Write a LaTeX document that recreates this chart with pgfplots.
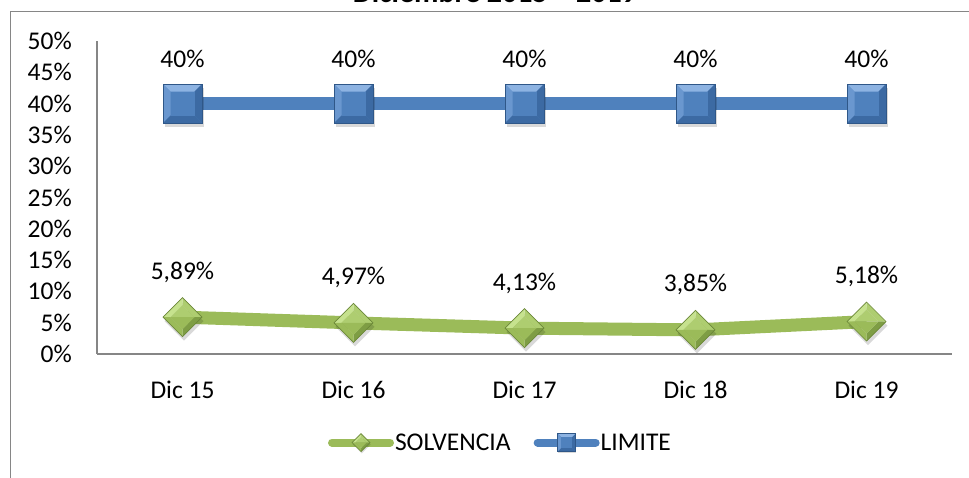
\documentclass[border=0pt]{standalone}
\usepackage{fontspec}
\setmainfont{Carlito}
\usepackage{pgfplots}
\pgfplotsset{compat=1.18}
\definecolor{bluemain}{HTML}{4F81BD}
\definecolor{bluelight}{HTML}{8DB3E2}
\definecolor{bluemid}{HTML}{6A97CF}
\definecolor{bluedark}{HTML}{3C6AA3}
\definecolor{blueedge}{HTML}{2F5788}
\definecolor{greenmain}{HTML}{9BBB59}
\definecolor{greenlight}{HTML}{C6E28E}
\definecolor{greenmid}{HTML}{AECD70}
\definecolor{greendark}{HTML}{7E9D44}
\definecolor{greenedge}{HTML}{6B8738}
\definecolor{framegray}{HTML}{868686}

\pgfdeclareplotmark{bevsq}{%
  \pgfsetlinewidth{0.6pt}%
  \pgfsetfillcolor{black}\pgfsetfillopacity{0.15}%
  \pgfpathrectangle{\pgfpoint{-18pt}{-23pt}}{\pgfpoint{39pt}{39pt}}\pgfusepath{fill}%
  \pgfsetfillopacity{1}%
  \pgfsetfillcolor{bluemain}%
  \pgfpathrectangle{\pgfpoint{-19.5pt}{-19.5pt}}{\pgfpoint{39pt}{39pt}}\pgfusepath{fill}%
  \pgfsetfillcolor{bluelight}%
  \pgfpathmoveto{\pgfpoint{-19.5pt}{19.5pt}}\pgfpathlineto{\pgfpoint{19.5pt}{19.5pt}}\pgfpathlineto{\pgfpoint{12pt}{12pt}}\pgfpathlineto{\pgfpoint{-12pt}{12pt}}\pgfpathclose\pgfusepath{fill}%
  \pgfsetfillcolor{bluemid}%
  \pgfpathmoveto{\pgfpoint{-19.5pt}{19.5pt}}\pgfpathlineto{\pgfpoint{-12pt}{12pt}}\pgfpathlineto{\pgfpoint{-12pt}{-12pt}}\pgfpathlineto{\pgfpoint{-19.5pt}{-19.5pt}}\pgfpathclose\pgfusepath{fill}%
  \pgfsetfillcolor{bluedark}%
  \pgfpathmoveto{\pgfpoint{19.5pt}{19.5pt}}\pgfpathlineto{\pgfpoint{12pt}{12pt}}\pgfpathlineto{\pgfpoint{12pt}{-12pt}}\pgfpathlineto{\pgfpoint{19.5pt}{-19.5pt}}\pgfpathclose\pgfusepath{fill}%
  \pgfpathmoveto{\pgfpoint{-19.5pt}{-19.5pt}}\pgfpathlineto{\pgfpoint{-12pt}{-12pt}}\pgfpathlineto{\pgfpoint{12pt}{-12pt}}\pgfpathlineto{\pgfpoint{19.5pt}{-19.5pt}}\pgfpathclose\pgfusepath{fill}%
  \pgfsetfillcolor{bluemain}%
  \pgfpathrectangle{\pgfpoint{-12pt}{-12pt}}{\pgfpoint{24pt}{24pt}}\pgfusepath{fill}%
  \pgfsetstrokecolor{blueedge}%
  \pgfpathrectangle{\pgfpoint{-19.5pt}{-19.5pt}}{\pgfpoint{39pt}{39pt}}\pgfusepath{stroke}%
}
\pgfdeclareplotmark{bevdia}{%
  \pgfsetlinewidth{0.6pt}%
  \pgfsetfillcolor{black}\pgfsetfillopacity{0.15}%
  \pgfpathmoveto{\pgfpoint{1.5pt}{15.5pt}}\pgfpathlineto{\pgfpoint{21pt}{-4pt}}\pgfpathlineto{\pgfpoint{1.5pt}{-23.5pt}}\pgfpathlineto{\pgfpoint{-18pt}{-4pt}}\pgfpathclose\pgfusepath{fill}%
  \pgfsetfillopacity{1}%
  \pgfsetfillcolor{greenlight}%
  \pgfpathmoveto{\pgfpoint{0pt}{19.5pt}}\pgfpathlineto{\pgfpoint{-19.5pt}{0pt}}\pgfpathlineto{\pgfpoint{-12pt}{0pt}}\pgfpathlineto{\pgfpoint{0pt}{12pt}}\pgfpathclose\pgfusepath{fill}%
  \pgfsetfillcolor{greenmid}%
  \pgfpathmoveto{\pgfpoint{0pt}{19.5pt}}\pgfpathlineto{\pgfpoint{19.5pt}{0pt}}\pgfpathlineto{\pgfpoint{12pt}{0pt}}\pgfpathlineto{\pgfpoint{0pt}{12pt}}\pgfpathclose\pgfusepath{fill}%
  \pgfsetfillcolor{greendark}%
  \pgfpathmoveto{\pgfpoint{0pt}{-19.5pt}}\pgfpathlineto{\pgfpoint{19.5pt}{0pt}}\pgfpathlineto{\pgfpoint{12pt}{0pt}}\pgfpathlineto{\pgfpoint{0pt}{-12pt}}\pgfpathclose\pgfusepath{fill}%
  \pgfsetfillcolor{greenmain}%
  \pgfpathmoveto{\pgfpoint{0pt}{-19.5pt}}\pgfpathlineto{\pgfpoint{-19.5pt}{0pt}}\pgfpathlineto{\pgfpoint{-12pt}{0pt}}\pgfpathlineto{\pgfpoint{0pt}{-12pt}}\pgfpathclose\pgfusepath{fill}%
  \pgfsetfillcolor{greenmid}%
  \pgfpathmoveto{\pgfpoint{0pt}{12pt}}\pgfpathlineto{\pgfpoint{12pt}{0pt}}\pgfpathlineto{\pgfpoint{-12pt}{0pt}}\pgfpathclose\pgfusepath{fill}%
  \pgfsetfillcolor{greenmain}%
  \pgfpathmoveto{\pgfpoint{0pt}{-12pt}}\pgfpathlineto{\pgfpoint{12pt}{0pt}}\pgfpathlineto{\pgfpoint{-12pt}{0pt}}\pgfpathclose\pgfusepath{fill}%
  \pgfsetstrokecolor{greenedge}%
  \pgfpathmoveto{\pgfpoint{0pt}{19.5pt}}\pgfpathlineto{\pgfpoint{19.5pt}{0pt}}\pgfpathlineto{\pgfpoint{0pt}{-19.5pt}}\pgfpathlineto{\pgfpoint{-19.5pt}{0pt}}\pgfpathclose\pgfusepath{stroke}%
}

\begin{document}
\begin{tikzpicture}[x=1pt,y=1pt,font=\fontsize{25.5}{30}\selectfont]
\useasboundingbox (0,0) rectangle (969,-478);
\clip (0,0) rectangle (969,-478);
\node[anchor=base, font=\bfseries\fontsize{30}{36}\selectfont, inner sep=0pt] at (495,-2.5) {Diciembre 2015 – 2019};
\draw[framegray, line width=1.5pt] (10.5,-700) -- (10.5,-11.5) -- (1100,-11.5);
\begin{axis}[
  at={(97pt,-354pt)}, anchor=south west,
  scale only axis, width=855pt, height=313pt,
  xmin=-0.5, xmax=4.5, ymin=0, ymax=50,
  axis x line*=bottom, axis y line*=left,
  x axis line style={-}, y axis line style={-},
  axis line style={draw=framegray, line width=1.5pt},
  xtick={0,1,2,3,4},
  xticklabels={Dic 15,Dic 16,Dic 17,Dic 18,Dic 19},
  ytick={0,5,10,15,20,25,30,35,40,45,50},
  yticklabels={0\%,5\%,10\%,15\%,20\%,25\%,30\%,35\%,40\%,45\%,50\%},
  major tick length=0pt,
  tick style={draw=none},
  yticklabel style={inner sep=0pt, xshift=-25pt},
  xticklabel style={inner sep=0pt, yshift=-27pt},
  clip=false,
  legend columns=2,
  legend style={at={(0.4713,-0.2843)}, anchor=center, draw=none, fill=none,
    inner sep=0pt, nodes={inner sep=1pt},
    /tikz/every even column/.append style={column sep=22pt}},
  nodes near coords,
  point meta=explicit symbolic,
  every node near coord/.append style={anchor=center, yshift=45pt, text=black},
]
\addplot[greenmain, line width=13pt, mark=bevdia,
  legend image code/.code={%
    \draw[greenmain, line width=8pt, line cap=round] (0pt,0pt) -- (58pt,0pt);
    \begin{scope}[shift={(29pt,0pt)}, scale=0.46]\pgfuseplotmark{bevdia}\end{scope}}]
  coordinates {(0,5.89) [5,89\%] (1,4.97) [4,97\%] (2,4.13) [4,13\%] (3,3.85) [3,85\%] (4,5.18) [5,18\%]};
\addlegendentry{SOLVENCIA}
\addplot[bluemain, line width=13pt, mark=bevsq,
  legend image code/.code={%
    \draw[bluemain, line width=8pt, line cap=round] (0pt,0pt) -- (58pt,0pt);
    \begin{scope}[shift={(29pt,0pt)}, scale=0.46]\pgfuseplotmark{bevsq}\end{scope}}]
  coordinates {(0,40) [40\%] (1,40) [40\%] (2,40) [40\%] (3,40) [40\%] (4,40) [40\%]};
\addlegendentry{LIMITE}
\end{axis}
\end{tikzpicture}
\end{document}
